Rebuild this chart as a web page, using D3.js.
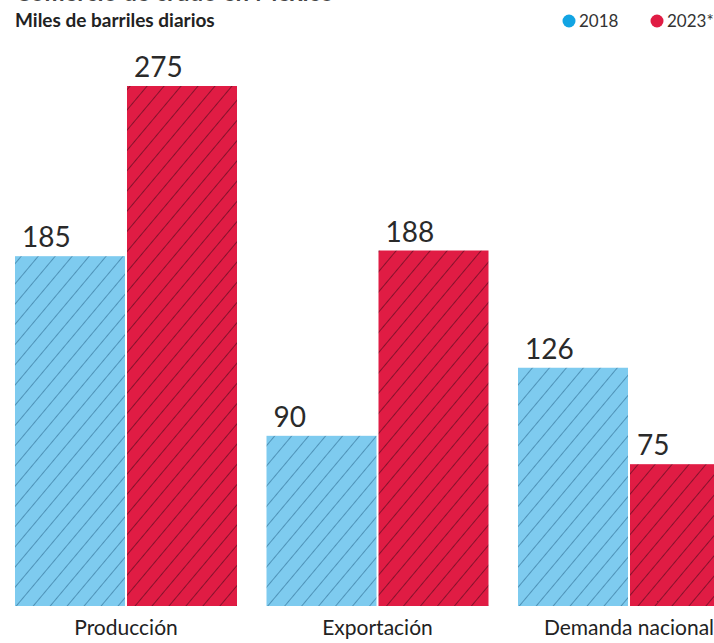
<!DOCTYPE html>
<html><head><meta charset="utf-8">
<script src="https://cdn.jsdelivr.net/npm/d3@7"></script>
<style>body{margin:0;background:#fff}svg{display:block}</style>
</head><body>
<script>
const categories = ["Producción", "Exportación", "Demanda nacional"];
const seriesNames = ["2018", "2023*"];
const values2018 = [185, 90, 126];
const values2023 = [275, 188, 75];
const colors = ["#7ecbef", "#e01c44"];
const legendColors = ["#12a4e3", "#e01c44"];

const W = 714, H = 643;
const svg = d3.select("body").append("svg").attr("width", W).attr("height", H);
const defs = svg.append("defs");
colors.forEach((c, i) => {
  const p = defs.append("pattern").attr("id", "hatch" + i)
    .attr("patternUnits", "userSpaceOnUse").attr("width", 13).attr("height", 13)
    .attr("patternTransform", "rotate(40)");
  p.append("rect").attr("width", 13).attr("height", 13).attr("fill", c);
  p.append("line").attr("x1", 0.5).attr("y1", 0).attr("x2", 0.5).attr("y2", 13)
    .attr("stroke", i === 0 ? "#4a8db3" : "#7e1129").attr("stroke-width", 1).attr("stroke-opacity", 0.9);
});

// cut-off title
svg.append("text").attr("x", 15).attr("y", 1).attr("font-family", "Lato").attr("font-weight", 700)
  .attr("font-size", 24).attr("fill", "#444").text("Comercio de crudo en México");
svg.append("text").attr("x", 15).attr("y", 27).attr("font-family", "Lato").attr("font-weight", 700)
  .attr("font-size", 19).attr("fill", "#222").text("Miles de barriles diarios");

// legend
const legX = [569, 657];
seriesNames.forEach((s, i) => {
  svg.append("circle").attr("cx", legX[i]).attr("cy", 21).attr("r", 6.5).attr("fill", legendColors[i]);
  svg.append("text").attr("x", legX[i] + 10).attr("y", 27).attr("font-family", "Lato")
    .attr("font-size", 17).attr("fill", "#333").text(s);
});

const x0 = d3.scaleBand().domain(categories).range([15, 740]).paddingInner(29.5 / 251.5).paddingOuter(0);
const x1 = d3.scaleBand().domain(seriesNames).range([0, x0.bandwidth()]).paddingInner(2 / 112).paddingOuter(0);
const y = d3.scaleLinear().domain([0, 275]).range([606, 86]);

const data = categories.map((c, i) => ({cat: c, vals: [values2018[i], values2023[i]]}));
const g = svg.selectAll("g.grp").data(data).join("g").attr("class", "grp")
  .attr("transform", d => `translate(${x0(d.cat)},0)`);

g.selectAll("rect").data(d => d.vals.map((v, i) => ({v, i}))).join("rect")
  .attr("x", d => x1(seriesNames[d.i])).attr("width", x1.bandwidth())
  .attr("y", d => y(d.v)).attr("height", d => y(0) - y(d.v))
  .attr("fill", d => `url(#hatch${d.i})`);

g.selectAll("text.val").data(d => d.vals.map((v, i) => ({v, i}))).join("text").attr("class", "val")
  .attr("x", d => x1(seriesNames[d.i]) + 7).attr("y", d => y(d.v) - 9)
  .attr("font-family", "Lato").attr("font-size", 28).attr("fill", "#2a2a2a").text(d => d.v);

g.append("text").attr("x", x0.bandwidth() / 2).attr("y", 635).attr("text-anchor", "middle")
  .attr("font-family", "Lato").attr("font-size", 21).attr("fill", "#222").text(d => d.cat);
</script>
</body></html>
